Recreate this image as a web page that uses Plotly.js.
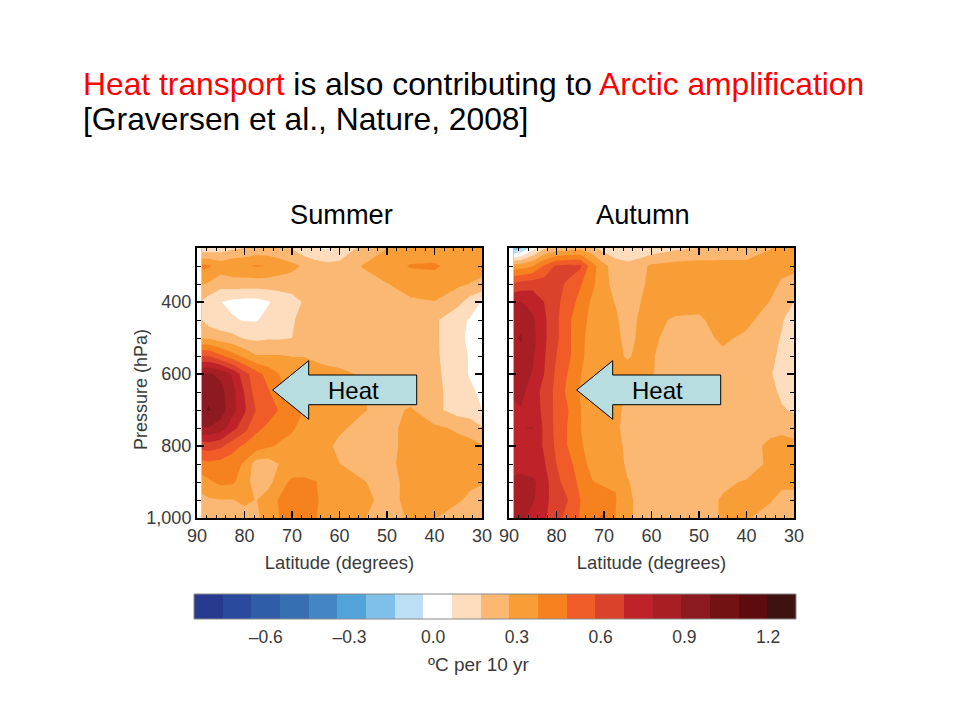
<!DOCTYPE html>
<html><head><meta charset="utf-8">
<script src="https://cdn.plot.ly/plotly-3.0.1.min.js"></script>
<style>html,body{margin:0;padding:0;background:#fff}</style></head>
<body><div id="chart" style="width:960px;height:720px"></div>
<script>
const latitudes=[89,87.5,85,82.5,80,77.5,75,72.5,70,67.5,65,62.5,60,55,50,45,40,35,32.5,30];
const pressures=[250,300,350,400,450,500,550,600,650,700,750,800,850,900,950,1000];
const summer=[
[.10,.10,.12,.15,.17,.20,.20,.19,.16,.10,.07,.06,.10,.20,.27,.30,.31,.30,.30,.30],
[.40,.39,.33,.36,.37,.385,.37,.33,.30,.26,.22,.20,.20,.28,.33,.385,.39,.33,.32,.31],
[.28,.26,.21,.22,.22,.22,.22,.22,.22,.20,.20,.20,.20,.23,.27,.31,.33,.29,.27,.25],
[.16,.12,.07,.04,.03,.03,.06,.10,.13,.18,.20,.21,.22,.22,.23,.26,.27,.20,.12,.06],
[.17,.12,.10,.08,.06,.06,.10,.13,.16,.20,.21,.22,.22,.22,.23,.23,.19,.09,.06,.04],
[.27,.26,.22,.20,.16,.15,.16,.16,.17,.20,.21,.22,.22,.22,.22,.22,.19,.09,.05,.04],
[.58,.58,.50,.42,.35,.28,.28,.28,.27,.27,.25,.23,.22,.22,.22,.22,.19,.10,.06,.05],
[.89,.90,.87,.77,.62,.52,.44,.37,.33,.32,.32,.31,.30,.26,.22,.22,.20,.10,.06,.05],
[.96,.97,.92,.82,.68,.53,.49,.40,.35,.33,.32,.31,.30,.275,.22,.22,.20,.12,.085,.05],
[.97,1.0,.94,.82,.70,.575,.52,.47,.41,.375,.33,.31,.30,.28,.24,.285,.20,.12,.10,.068],
[.88,.885,.84,.72,.62,.50,.46,.42,.39,.34,.32,.31,.29,.24,.24,.31,.29,.26,.25,.18],
[.62,.63,.60,.52,.46,.43,.39,.36,.34,.32,.31,.29,.25,.22,.24,.31,.31,.30,.29,.28],
[.44,.45,.44,.42,.36,.22,.22,.28,.30,.31,.30,.29,.275,.23,.25,.31,.31,.30,.30,.29],
[.33,.36,.40,.39,.33,.21,.24,.33,.40,.40,.38,.33,.31,.28,.23,.31,.31,.30,.285,.28],
[.24,.26,.27,.27,.29,.27,.32,.39,.42,.42,.39,.33,.32,.31,.23,.31,.285,.28,.26,.24],
[.20,.20,.21,.22,.24,.26,.30,.38,.42,.41,.38,.33,.31,.28,.22,.29,.276,.24,.22,.21]];
const autumn=[
[-.20,-.15,.02,.15,.20,.22,.25,.20,.13,.10,.08,.08,.10,.15,.17,.18,.20,.27,.30,.31],
[.32,.33,.37,.50,.60,.61,.60,.42,.30,.22,.20,.24,.29,.31,.32,.32,.31,.30,.30,.29],
[.60,.62,.64,.63,.60,.57,.49,.40,.30,.24,.22,.25,.30,.33,.34,.34,.33,.30,.26,.25],
[.78,.79,.76,.68,.60,.54,.44,.36,.29,.27,.23,.27,.30,.30,.30,.33,.32,.27,.20,.17],
[.83,.85,.80,.70,.60,.50,.41,.35,.29,.28,.25,.28,.29,.265,.26,.31,.29,.24,.18,.10],
[.87,.90,.82,.70,.60,.50,.40,.34,.30,.29,.25,.285,.285,.25,.25,.285,.26,.21,.16,.10],
[.83,.85,.80,.69,.58,.50,.40,.33,.30,.29,.265,.29,.28,.23,.24,.26,.25,.19,.15,.13],
[.80,.83,.78,.68,.56,.47,.38,.33,.31,.30,.30,.30,.28,.22,.22,.22,.21,.18,.13,.12],
[.80,.82,.73,.65,.55,.45,.37,.33,.31,.29,.27,.25,.24,.22,.22,.22,.21,.20,.15,.13],
[.77,.78,.73,.66,.55,.48,.38,.33,.31,.285,.26,.24,.22,.22,.22,.22,.22,.21,.18,.16],
[.75,.785,.79,.66,.55,.47,.38,.31,.30,.28,.26,.23,.22,.22,.22,.23,.24,.25,.25,.23],
[.74,.75,.74,.67,.56,.47,.39,.33,.31,.29,.26,.23,.22,.22,.22,.23,.24,.29,.31,.30],
[.74,.75,.72,.69,.58,.52,.41,.35,.33,.33,.25,.23,.22,.22,.22,.22,.23,.29,.30,.30],
[.81,.82,.81,.73,.60,.55,.45,.38,.36,.37,.28,.24,.22,.22,.22,.26,.28,.28,.29,.29],
[.82,.84,.80,.72,.62,.58,.48,.40,.42,.38,.30,.24,.22,.22,.24,.28,.30,.28,.25,.25],
[.82,.82,.74,.70,.60,.56,.47,.45,.50,.37,.30,.24,.22,.21,.22,.285,.28,.24,.22,.22]];
const bandColors=['#283A90','#2A4A9E','#2F5DA8','#3670B3','#4485C4','#51A3DA','#7FC0E9','#BCDFF5','#FFFFFF','#FDDDBD','#FBB873','#F99D37','#F6821F','#F15B27','#DB412B','#BF2229','#A71F25','#8C1A1F','#731212','#5E0B0E','#3E1210'];
const bandEdges=[-.857,-.754,-.652,-.549,-.446,-.343,-.241,-.138,-.035,.067,.170,.273,.375,.478,.581,.684,.786,.889,.992,1.094,1.197,1.30];
const bandMids=[-.805,-.703,-.600,-.497,-.395,-.292,-.189,-.086,.016,.118,.221,.324,.427,.530,.632,.735,.838,.940,1.043,1.146,1.248];
const barTicks=[-.6,-.3,0,.3,.6,.9,1.2];
const barLabels=['–0.6','–0.3','0.0','0.3','0.6','0.9','1.2'];
const latTicks=[90,80,70,60,50,40,30];

const FONT='"Liberation Sans", Arial, sans-serif';
const INK='#3a3a3a';
const W=960,H=720;
const px=x=>x/W, py=y=>1-y/H;
const steps=cols=>{const s=[];cols.forEach((c,i)=>{s.push([i/cols.length,c]);s.push([(i+1)/cols.length,c]);});return s;};
const zmin=bandEdges[0], zmax=bandEdges[bandEdges.length-1];
const cont=(z,xa,ya)=>({type:'contour',x:latitudes,y:pressures,z:z,xaxis:xa,yaxis:ya,
  colorscale:steps(bandColors.slice(0,20)),zmin:zmin,zmax:zmax,zauto:false,autocontour:false,showscale:false,hoverinfo:'skip',
  contours:{coloring:'fill',start:bandEdges[1],end:bandEdges[20],size:0.1027,showlines:false},
  line:{width:0,smoothing:0}});
const data=[cont(summer,'x','y'),cont(autumn,'x2','y2'),
 {type:'heatmap',x:bandEdges,y:[0,1],z:[bandMids],xaxis:'x3',yaxis:'y3',colorscale:steps(bandColors),zmin:zmin,zmax:zmax,zauto:false,showscale:false,hoverinfo:'skip'}];
const tickFont={family:FONT,size:18,color:INK};
const xa=(l,r)=>({domain:[px(l),px(r)],range:[90,30],tickvals:latTicks,ticks:'inside',ticklen:7,tickwidth:1.5,tickcolor:'#000',
  showline:true,linecolor:'#000',linewidth:2,mirror:'allticks',showgrid:false,zeroline:false,tickfont:tickFont,
  title:{text:'Latitude (degrees)',font:{family:FONT,size:18.4,color:INK},standoff:12},
  minor:{dtick:2,ticks:'inside',ticklen:3,tickwidth:1,tickcolor:'#000',showgrid:false}});
const ya=(anchor,lab)=>({domain:[py(518),py(248)],range:[1000,250],anchor:anchor,tick0:200,dtick:200,ticks:'inside',ticklen:7,tickwidth:1.5,tickcolor:'#000',
  showline:true,linecolor:'#000',linewidth:2,mirror:'allticks',showgrid:false,zeroline:false,showticklabels:lab,tickformat:',d',tickfont:tickFont,
  minor:{dtick:50,ticks:'inside',ticklen:4,tickwidth:1,tickcolor:'#000',showgrid:false}});
const arrow=(tip,head,right)=>{
 const p=[[tip,390],[head,360.7],[head,375],[right,375],[right,404.7],[head,404.7],[head,419.3]];
 return {type:'path',xref:'paper',yref:'paper',layer:'above',fillcolor:'#B7DDE1',line:{color:'#000',width:1},
  path:'M'+p.map(q=>px(q[0])+','+py(q[1])).join('L')+'Z'};
};
const note=(x,y,text,size,anchor,color)=>({xref:'paper',yref:'paper',x:px(x),y:py(y),text:text,showarrow:false,
  xanchor:anchor||'center',yanchor:'middle',align:'left',font:{family:FONT,size:size,color:color||'#000'}});
const layout={width:W,height:H,margin:{l:0,r:0,t:0,b:0,pad:0},paper_bgcolor:'#fff',plot_bgcolor:'#fff',showlegend:false,
 xaxis:xa(197,482),yaxis:ya('x',true),
 xaxis2:Object.assign(xa(509,794),{anchor:'y2'}),yaxis2:ya('x2',false),
 xaxis3:{domain:[px(194),px(796)],range:[zmin,zmax],anchor:'y3',tickvals:barTicks,ticktext:barLabels,ticks:'',showgrid:false,zeroline:false,
   showline:false,tickfont:{family:FONT,size:17.5,color:INK},ticklabelstandoff:5},
 yaxis3:{domain:[py(619),py(594)],range:[0,1],anchor:'x3',showticklabels:false,ticks:'',showgrid:false,zeroline:false,showline:false},
 shapes:[arrow(272.7,308.7,416.7),arrow(576.7,612.7,720.7),
  {type:'rect',xref:'paper',yref:'paper',x0:px(194),x1:px(796),y0:py(619),y1:py(594),line:{color:'#8a8a8a',width:1},fillcolor:'rgba(0,0,0,0)',layer:'above'}],
 annotations:[
  note(81,84,'<span style="color:#FF0000">Heat transport</span> is also contributing to <span style="color:#FF0000">Arctic amplification</span>',31.8,'left'),
  note(81,119,'[Graversen et al., Nature, 2008]',31.8,'left'),
  note(341,214,'Summer',27.2),note(643,214,'Autumn',27.2),
  note(353,390,'Heat',24),note(657,390,'Heat',24),
  note(479,664,'ºC per 10 yr',19,'center',INK),
  Object.assign(note(141,390,'Pressure (hPa)',18,'center',INK),{textangle:-90})
 ]};
Plotly.newPlot('chart',data,layout,{staticPlot:true,displayModeBar:false});
</script></body></html>
